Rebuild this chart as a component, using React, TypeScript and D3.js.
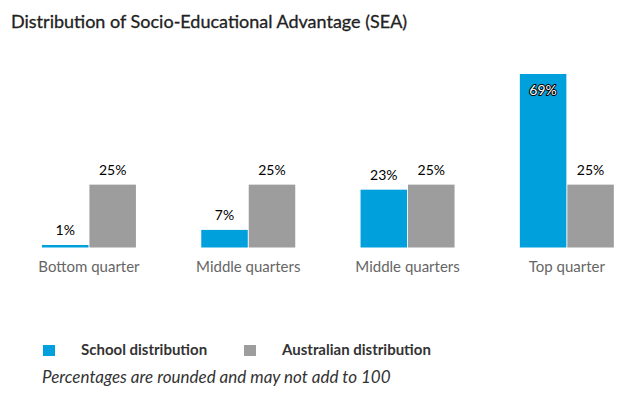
import React from 'react';
import * as d3 from 'd3';

const categories = ['Bottom quarter', 'Middle quarters', 'Middle quarters ', 'Top quarter'];
const seriesNames = ['School distribution', 'Australian distribution'];
const schoolValues = [1, 7, 23, 69];
const australianValues = [25, 25, 25, 25];
const colors = ['#00a0dd', '#9d9d9d'];

const width = 627;
const height = 395;
const font = 'Lato, "Open Sans", sans-serif';

const App = () => {
  const x = d3.scaleBand<string>()
    .domain(categories)
    .range([9.3, 646.5])
    .paddingInner(0.41)
    .paddingOuter(0.205);

  const xs = d3.scaleBand<number>()
    .domain([0, 1])
    .range([0, x.bandwidth()])
    .paddingInner(0.02);

  const y = d3.scaleLinear()
    .domain([0, 69])
    .range([247.5, 74]);

  const rows = categories.map((c, i) => ({
    cat: c,
    values: [schoolValues[i], australianValues[i]]
  }));

  return (
    <svg width={width} height={height} style={{ position: 'absolute', left: 0, top: 0, fontFamily: font }}>
      <rect width={width} height={height} fill="#fff" />
      <text x={11} y={28} fontSize={18} fill="#222" stroke="#222" strokeWidth={0.3}>
        Distribution of Socio-Educational Advantage (SEA)
      </text>

      {rows.map(r => (
        <g key={r.cat} transform={`translate(${x(r.cat)},0)`}>
          {r.values.map((v, j) => {
            const bx = xs(j) as number;
            const top = y(v);
            const h = Math.max(1, y(0) - top);
            const inside = v > 50;
            return (
              <g key={j}>
                <rect x={bx} y={y(0) - h} width={xs.bandwidth()} height={h} fill={colors[j]} />
                {inside ? (
                  <text
                    x={bx + xs.bandwidth() / 2}
                    y={top + 21}
                    textAnchor="middle"
                    fontSize={14}
                    fill="#fff"
                    stroke="#000"
                    strokeWidth={2}
                    paintOrder="stroke"
                    strokeLinejoin="round"
                  >
                    {v}%
                  </text>
                ) : (
                  <text x={bx + xs.bandwidth() / 2} y={top - 10} textAnchor="middle" fontSize={14} fill="#000">
                    {v}%
                  </text>
                )}
              </g>
            );
          })}
          <text x={x.bandwidth() / 2} y={272} textAnchor="middle" fontSize={15} fill="#666">
            {r.cat.trim()}
          </text>
        </g>
      ))}

      <g>
        {seriesNames.map((s, i) => (
          <g key={s} transform={`translate(${43 + i * 201},0)`}>
            <rect x={0} y={345} width={12} height={11} fill={colors[i]} />
            <text x={38} y={355} fontSize={15} fontWeight="bold" fill="#333">{s}</text>
          </g>
        ))}
      </g>

      <text x={42} y={383} fontSize={17} fontStyle="italic" fill="#333">
        Percentages are rounded and may not add to 100
      </text>
    </svg>
  );
};

export default App;
